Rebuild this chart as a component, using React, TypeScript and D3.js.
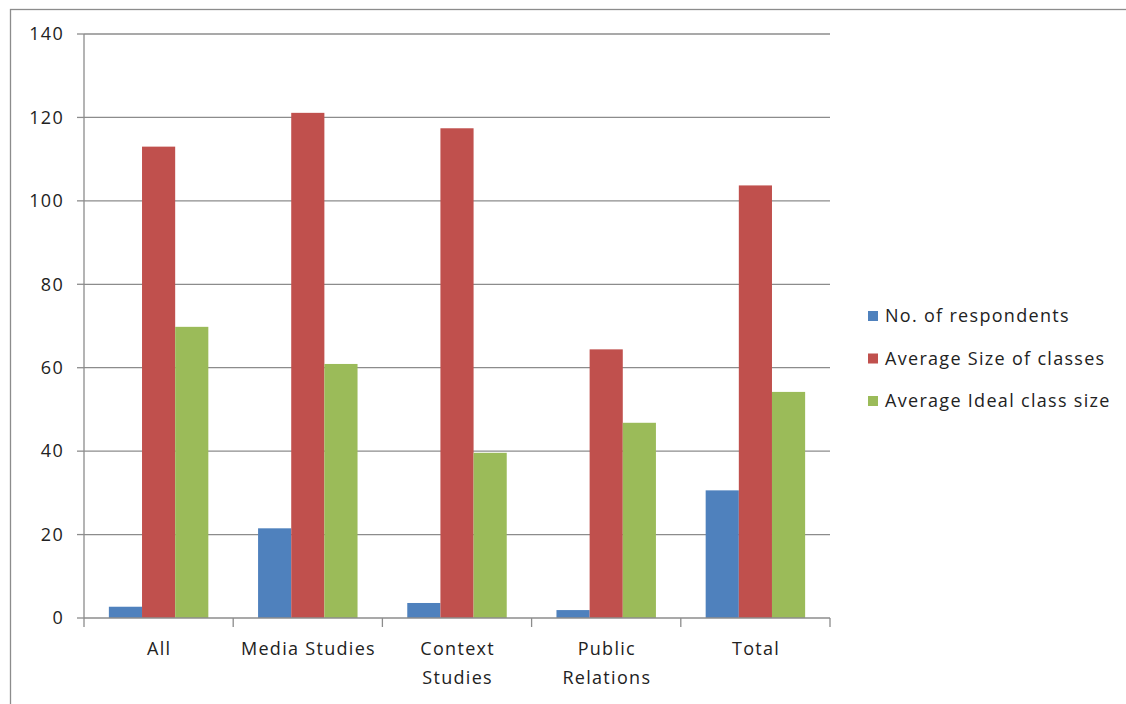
import React from "react";
import * as d3 from "d3";

const categories: string[][] = [["All"], ["Media Studies"], ["Context", "Studies"], ["Public", "Relations"], ["Total"]];
const seriesNames = ["No. of respondents", "Average Size of classes", "Average Ideal class size"];
const respondents = [2.7, 21.5, 3.6, 1.9, 30.6];
const avgSize = [113.0, 121.1, 117.4, 64.4, 103.7];
const idealSize = [69.8, 60.9, 39.6, 46.8, 54.2];
const yTicks = [0, 20, 40, 60, 80, 100, 120, 140];
const colors = ["#4F81BD", "#C0504D", "#9BBB59"];

export default function App() {
  const W = 1126, H = 704;
  const left = 84, right = 830, top = 34, bottom = 618;
  const font = "'Open Sans', 'Noto Sans', sans-serif";
  const fs = 18;
  const ls = 1.3;
  const series = [respondents, avgSize, idealSize];
  const catKeys = categories.map((c) => c.join(" "));
  const x = d3.scaleBand<string>().domain(catKeys).range([left, right]).paddingInner(0).paddingOuter(0);
  const barW = x.bandwidth() / 4.5;
  const inner = d3.scaleBand<number>().domain([0, 1, 2]).range([0, barW * 3]);
  const y = d3.scaleLinear().domain([0, 140]).range([bottom, top]);
  const grid = "#8c8c8c";
  return (
    <svg width={W} height={H} style={{ position: "absolute", left: 0, top: 0, background: "#fff" }}>
      <rect x={10.5} y={9.5} width={1130} height={720} fill="#fff" stroke="#8c8c8c" strokeWidth={1.3} />
      {yTicks.map((t) => (
        <g key={t}>
          {t > 0 && <line x1={left} x2={right} y1={y(t)} y2={y(t)} stroke={grid} strokeWidth={1.3} />}
          <line x1={left - 7} x2={left} y1={y(t)} y2={y(t)} stroke={grid} strokeWidth={1.3} />
          <text x={64} y={y(t)} dy="0.35em" textAnchor="end" fontFamily={font} fontSize={fs} letterSpacing={ls} fill="#222">{t}</text>
        </g>
      ))}
      {series.map((vals, si) =>
        vals.map((v, ci) => {
          const bx = (x(catKeys[ci]) as number) + barW * 0.75 + (inner(si) as number);
          return <rect key={si + "-" + ci} x={bx} y={y(v)} width={barW} height={y(0) - y(v)} fill={colors[si]} />;
        })
      )}
      <line x1={left} x2={left} y1={top} y2={bottom} stroke={grid} strokeWidth={1.3} />
      <line x1={left} x2={right} y1={bottom} y2={bottom} stroke={grid} strokeWidth={1.3} />
      {[...catKeys.map((k) => x(k) as number), right].map((tx, i) => (
        <line key={i} x1={tx} x2={tx} y1={bottom} y2={bottom + 9} stroke={grid} strokeWidth={1.3} />
      ))}
      {categories.map((lines, ci) => (
        <text key={ci} x={(x(catKeys[ci]) as number) + x.bandwidth() / 2} y={649} textAnchor="middle" fontFamily={font} fontSize={fs} letterSpacing={ls} fill="#222">
          {lines.map((l, li) => (
            <tspan key={li} x={(x(catKeys[ci]) as number) + x.bandwidth() / 2 + ls / 2} dy={li === 0 ? "0.35em" : 29}>{l}</tspan>
          ))}
        </text>
      ))}
      {seriesNames.map((n, i) => (
        <g key={n} transform={`translate(868, ${316 + i * 42.5})`}>
          <rect x={0} y={-5} width={10} height={10} fill={colors[i]} />
          <text x={17} y={0} dy="0.35em" fontFamily={font} fontSize={fs} letterSpacing={ls} fill="#222">{n}</text>
        </g>
      ))}
    </svg>
  );
}
